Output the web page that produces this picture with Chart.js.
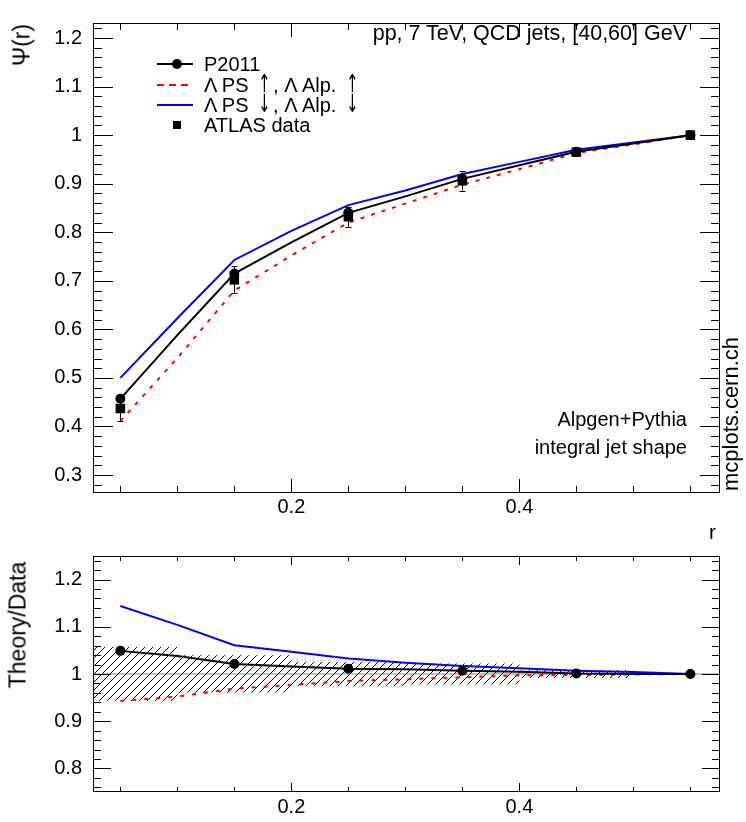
<!DOCTYPE html>
<html>
<head>
<meta charset="utf-8">
<script src="https://cdn.jsdelivr.net/npm/chart.js@4.4.0/dist/chart.umd.min.js"></script>
<style>
html,body{margin:0;padding:0;background:#fff;}
body{width:746px;height:822px;position:relative;overflow:hidden;font-family:"Liberation Sans",Arial,sans-serif;color:#000;}
canvas{position:absolute;left:0;}
.t{position:absolute;font-size:20px;line-height:20px;white-space:nowrap;}
.ar{font-size:25px;line-height:0;font-family:"DejaVu Sans",sans-serif;display:inline-block;transform:scaleX(0.6);margin:0 -2px 0 0;}
.rot{position:absolute;white-space:nowrap;line-height:1;transform-origin:0 0;transform:rotate(-90deg) translate(-50%,-50%);}
</style>
</head>
<body>
<canvas id="topChart" width="746" height="520" style="top:0"></canvas>
<canvas id="ratioChart" width="746" height="302" style="top:520px"></canvas>

<!-- legend -->
<svg style="position:absolute;left:150px;top:54px" width="50" height="82">
  <line x1="7" y1="10" x2="43" y2="10" stroke="#000" stroke-width="2"/>
  <circle cx="27" cy="10" r="5" fill="#000"/>
  <line x1="7" y1="31" x2="43" y2="31" stroke="#ff0000" stroke-width="2" stroke-dasharray="7,5"/>
  <line x1="7" y1="51" x2="43" y2="51" stroke="#0000ff" stroke-width="2"/>
  <rect x="23" y="67" width="8" height="8" fill="#000"/>
</svg>
<div class="t" style="left:204px;top:54px">P2011</div>
<div class="t" style="left:204px;top:75px">Λ PS <span class="ar">↑</span>, Λ Alp. <span class="ar">↑</span></div>
<div class="t" style="left:204px;top:95px">Λ PS <span class="ar">↓</span>, Λ Alp. <span class="ar">↓</span></div>
<div class="t" style="left:204px;top:115px">ATLAS data</div>

<div class="t" style="right:59px;top:23px;font-size:21.5px">pp, 7 TeV, QCD jets, [40,60] GeV</div>
<div class="t" style="right:59px;top:409px">Alpgen+Pythia</div>
<div class="t" style="right:59px;top:437px">integral jet shape</div>
<div class="rot" style="left:731px;top:414px;font-size:22px">mcplots.cern.ch</div>
<div class="rot" style="left:22px;top:45px;font-size:23px">Ψ(r)</div>
<div class="rot" style="left:18px;top:625px;font-size:23px">Theory/Data</div>
<div class="t" style="left:709px;top:522px;font-size:21px">r</div>

<script>
// ---------- data ----------
const rCenters = [0.05, 0.15, 0.25, 0.35, 0.45, 0.55];
const binEdges = [0.0, 0.1, 0.2, 0.3, 0.4, 0.5, 0.6];
const atlasData = [0.437, 0.702, 0.832, 0.906, 0.965, 1.000];
const atlasErr  = [0.025, 0.028, 0.021, 0.020, 0.008, 0.000];

// MC curves read at r = 0.05 ... 0.55 (step 0.05)
const rCurve  = [0.05, 0.10, 0.15, 0.20, 0.25, 0.30, 0.35, 0.40, 0.45, 0.50, 0.55];
const p2011   = [0.457, 0.588, 0.715, 0.779, 0.840, 0.874, 0.910, 0.938, 0.966, 0.983, 1.000];
const psUp    = [0.411, 0.541, 0.680, 0.752, 0.820, 0.859, 0.898, 0.930, 0.963, 0.981, 1.000];
const psDown  = [0.500, 0.623, 0.743, 0.803, 0.856, 0.886, 0.920, 0.945, 0.970, 0.985, 1.000];

// ratio curves Theory/Data at the same r
const ratioP2011 = [1.049, 1.038, 1.021, 1.016, 1.011, 1.010, 1.007, 1.005, 1.001, 1.000, 1.000];
const ratioUp    = [0.943, 0.952, 0.969, 0.977, 0.985, 0.989, 0.993, 0.997, 0.998, 0.999, 1.000];
const ratioDown  = [1.144, 1.104, 1.061, 1.047, 1.033, 1.024, 1.017, 1.012, 1.007, 1.004, 1.000];

// axes
const xRange = [0.026, 0.576];
const topYRange = [0.263, 1.231];
const ratioYRange = [0.75, 1.25];
const xTickLabels = [0.2, 0.4];
const topYTickLabels = [0.3, 0.4, 0.5, 0.6, 0.7, 0.8, 0.9, 1.0, 1.1, 1.2];
const ratioYTickLabels = [0.8, 0.9, 1.0, 1.1, 1.2];

// ---------- helpers ----------
const FONT = {family: '"Liberation Sans", Arial, sans-serif', size: 20};
const pts = (xs, ys) => xs.map((x, i) => ({x: x, y: ys[i]}));
const fmt = v => String(Math.round(v * 100) / 100);
const isCenter = c => rCenters.some(r => Math.abs(r - rCurve[c.dataIndex]) < 1e-6);

function frameTicks(cfg) {
  return {
    id: 'frameTicks',
    afterDatasetsDraw(chart) {
      const {ctx, chartArea: a} = chart;
      const xs = chart.scales.x, ys = chart.scales.y;
      ctx.save();
      ctx.strokeStyle = '#000';
      ctx.lineWidth = 1;
      ctx.beginPath();
      const xk0 = Math.ceil(xs.min / cfg.xStep - 1e-9), xk1 = Math.floor(xs.max / cfg.xStep + 1e-9);
      for (let k = xk0; k <= xk1; k++) {
        const v = k * cfg.xStep;
        const major = Math.abs(v / cfg.xMajor - Math.round(v / cfg.xMajor)) < 1e-6;
        const L = major ? cfg.xMajLen : cfg.xMinLen;
        const p = Math.round(xs.getPixelForValue(v)) + 0.5;
        ctx.moveTo(p, a.bottom); ctx.lineTo(p, a.bottom - L);
        ctx.moveTo(p, a.top); ctx.lineTo(p, a.top + L);
      }
      const yk0 = Math.ceil(ys.min / cfg.yStep - 1e-9), yk1 = Math.floor(ys.max / cfg.yStep + 1e-9);
      for (let k = yk0; k <= yk1; k++) {
        const v = k * cfg.yStep;
        const major = Math.abs(v / cfg.yMajor - Math.round(v / cfg.yMajor)) < 1e-6;
        const L = major ? cfg.yMajLen : cfg.yMinLen;
        const p = Math.round(ys.getPixelForValue(v)) + 0.5;
        ctx.moveTo(a.left, p); ctx.lineTo(a.left + L, p);
        ctx.moveTo(a.right, p); ctx.lineTo(a.right - L, p);
      }
      ctx.stroke();
      ctx.strokeRect(Math.round(a.left) + 0.5, Math.round(a.top) + 0.5,
                     Math.round(a.right - a.left) - 1, Math.round(a.bottom - a.top) - 1);
      ctx.restore();
    }
  };
}

const errorBars = {
  id: 'errorBars',
  afterDatasetsDraw(chart) {
    const {ctx} = chart;
    const xs = chart.scales.x, ys = chart.scales.y;
    ctx.save();
    ctx.strokeStyle = '#000';
    ctx.lineWidth = 1;
    ctx.beginPath();
    rCenters.forEach((r, i) => {
      if (atlasErr[i] <= 0) return;
      const px = Math.round(xs.getPixelForValue(r)) + 0.5;
      const lo = ys.getPixelForValue(atlasData[i] - atlasErr[i]);
      const hi = ys.getPixelForValue(atlasData[i] + atlasErr[i]);
      ctx.moveTo(px, lo); ctx.lineTo(px, hi);
      ctx.moveTo(px - 3, Math.round(lo) + 0.5); ctx.lineTo(px + 3, Math.round(lo) + 0.5);
      ctx.moveTo(px - 3, Math.round(hi) + 0.5); ctx.lineTo(px + 3, Math.round(hi) + 0.5);
    });
    ctx.stroke();
    ctx.restore();
  }
};

function xScale(h, pad) {
  return {
    type: 'linear', min: xRange[0], max: xRange[1],
    grid: {display: false, drawTicks: false}, border: {display: false},
    afterBuildTicks: s => { s.ticks = xTickLabels.map(v => ({value: v})); },
    afterFit: s => { s.height = h; },
    ticks: {font: FONT, color: '#000', padding: pad, maxRotation: 0, autoSkip: false, callback: v => fmt(v)}
  };
}
function yScale(range, labels) {
  return {
    type: 'linear', min: range[0], max: range[1],
    grid: {display: false, drawTicks: false}, border: {display: false},
    afterBuildTicks: s => { s.ticks = labels.map(v => ({value: v})); },
    afterFit: s => { s.width = 93; },
    ticks: {font: FONT, color: '#000', padding: 11, autoSkip: false, callback: v => fmt(v)}
  };
}

// ---------- top chart ----------
new Chart(document.getElementById('topChart'), {
  type: 'scatter',
  data: {
    datasets: [
      {label: 'ATLAS data', data: pts(rCenters, atlasData), pointStyle: 'rect', pointRadius: 6.7,
       backgroundColor: '#000', borderWidth: 0, showLine: false},
      {label: 'P2011', data: pts(rCurve, p2011), showLine: true, borderColor: '#000', borderWidth: 2,
       pointRadius: c => isCenter(c) ? 5 : 0, pointBackgroundColor: '#000', pointBorderWidth: 0},
      {label: 'up', data: pts(rCurve, psUp), showLine: true, borderColor: '#ff0000', borderWidth: 2,
       borderDash: [4, 7], pointRadius: 0},
      {label: 'down', data: pts(rCurve, psDown), showLine: true, borderColor: '#0000ff', borderWidth: 2,
       pointRadius: 0}
    ]
  },
  options: {
    animation: false, responsive: false, devicePixelRatio: 1,
    layout: {padding: {top: 22, right: 26, left: 0, bottom: 0}},
    plugins: {legend: {display: false}, tooltip: {enabled: false}},
    scales: {x: xScale(27, 2), y: yScale(topYRange, topYTickLabels)}
  },
  plugins: [errorBars, frameTicks({xStep: 0.05, xMajor: 0.2, xMajLen: 14, xMinLen: 7,
                                   yStep: 0.02, yMajor: 0.1, yMajLen: 20, yMinLen: 9})]
});

// ---------- ratio chart ----------
const pat = document.createElement('canvas');
pat.width = 8; pat.height = 8;
const pc = pat.getContext('2d');
pc.strokeStyle = '#000'; pc.lineWidth = 1;
pc.beginPath();
pc.moveTo(-1, 9); pc.lineTo(9, -1);
pc.stroke();
const hatch = pc.createPattern(pat, 'repeat');

const relErr = i => atlasErr[Math.min(i, 5)] / atlasData[Math.min(i, 5)];
const bandUpper = binEdges.map((e, i) => ({x: e, y: 1 + relErr(i)}));
const bandLower = binEdges.map((e, i) => ({x: e, y: 1 - relErr(i)}));

new Chart(document.getElementById('ratioChart'), {
  type: 'scatter',
  data: {
    datasets: [
      {label: 'P2011', data: pts(rCurve, ratioP2011), showLine: true, borderColor: '#000', borderWidth: 2,
       pointRadius: c => isCenter(c) ? 5 : 0, pointBackgroundColor: '#000', pointBorderWidth: 0},
      {label: 'up', data: pts(rCurve, ratioUp), showLine: true, borderColor: '#ff0000', borderWidth: 2,
       borderDash: [4, 8], pointRadius: 0},
      {label: 'down', data: pts(rCurve, ratioDown), showLine: true, borderColor: '#0000ff', borderWidth: 2,
       pointRadius: 0},
      {label: 'one', data: [{x: 0, y: 1}, {x: 0.6, y: 1}], showLine: true, borderColor: '#808080',
       borderWidth: 1, pointRadius: 0},
      {label: 'bandUp', data: bandUpper, showLine: true, stepped: 'before', borderWidth: 0,
       borderColor: 'rgba(0,0,0,0)', pointRadius: 0, fill: '+1', backgroundColor: hatch},
      {label: 'bandLo', data: bandLower, showLine: true, stepped: 'before', borderWidth: 0,
       borderColor: 'rgba(0,0,0,0)', pointRadius: 0, fill: false}
    ]
  },
  options: {
    animation: false, responsive: false, devicePixelRatio: 1,
    layout: {padding: {top: 36, right: 26, left: 0, bottom: 0}},
    plugins: {legend: {display: false}, tooltip: {enabled: false}, filler: {propagate: false}},
    scales: {x: xScale(30, 3), y: yScale(ratioYRange, ratioYTickLabels)}
  },
  plugins: [frameTicks({xStep: 0.05, xMajor: 0.2, xMajLen: 9, xMinLen: 5,
                        yStep: 0.02, yMajor: 0.1, yMajLen: 18, yMinLen: 8})]
});
</script>
</body>
</html>
